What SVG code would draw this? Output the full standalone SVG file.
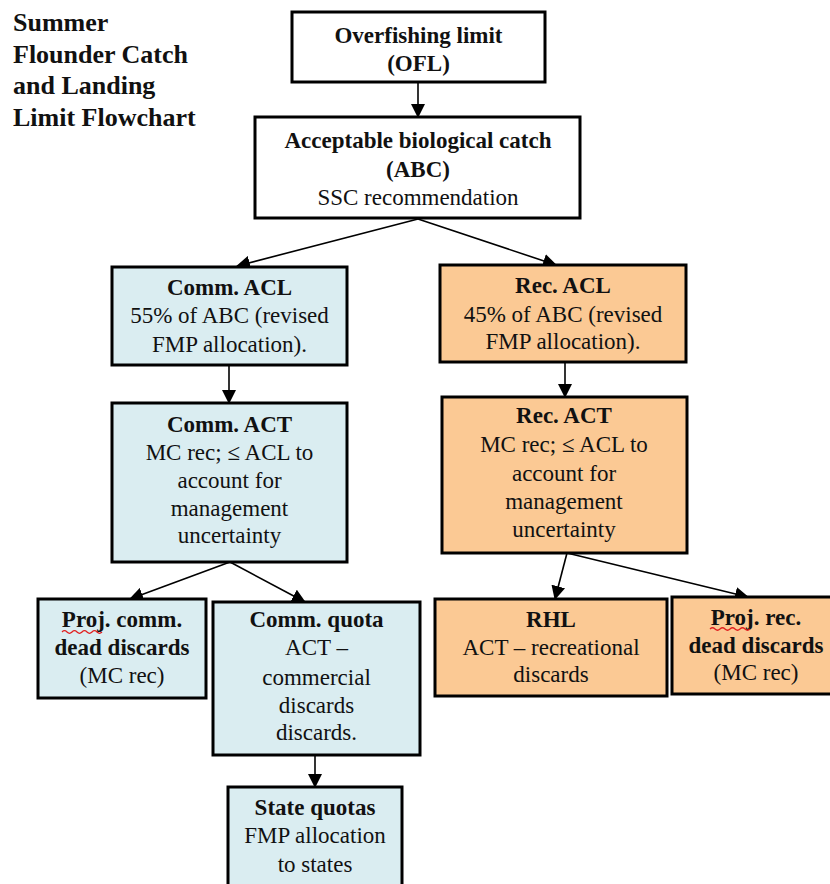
<svg xmlns="http://www.w3.org/2000/svg" width="830" height="884" viewBox="0 0 830 884" font-family="Liberation Serif" font-size="23">
<defs>
<marker id="ah" markerUnits="userSpaceOnUse" markerWidth="14" markerHeight="14" viewBox="0 0 14 14" refX="13" refY="7" orient="auto">
<path d="M0,0 L14,7 L0,14 Z" fill="#000"/>
</marker>
</defs>
<style>
.box{stroke:#000;stroke-width:3}
.w{fill:#fff}
.b{fill:#DAEDF1}
.o{fill:#FBC994}
text{fill:#111;text-anchor:middle;font-family:'Liberation Serif',serif !important}
.h{font-weight:bold}
.title{font-size:26px;font-weight:bold;text-anchor:start}
.conn line{stroke:#000;stroke-width:1.6;marker-end:url(#ah)}
.sq{fill:none;stroke:#e02020;stroke-width:1.2}
</style>
<rect width="830" height="884" fill="#fff"/>
<g id="title" style="font-family:'Liberation Serif',serif">
<text class="title" x="13" y="31" style="font-family:'Liberation Serif',serif">Summer</text>
<text class="title" x="13" y="63" style="font-family:'Liberation Serif',serif">Flounder Catch</text>
<text class="title" x="13" y="94" style="font-family:'Liberation Serif',serif">and Landing</text>
<text class="title" x="13" y="126" style="font-family:'Liberation Serif',serif">Limit Flowchart</text>
</g>
<g class="conn" id="connectors">
<line x1="418" y1="82" x2="418" y2="117"/>
<line x1="418" y1="219" x2="237" y2="266"/>
<line x1="418" y1="219" x2="556" y2="265"/>
<line x1="229" y1="365" x2="229" y2="403"/>
<line x1="565" y1="362" x2="565" y2="397"/>
<line x1="230" y1="562" x2="130" y2="599"/>
<line x1="230" y1="562" x2="305" y2="602"/>
<line x1="567" y1="553" x2="555" y2="599"/>
<line x1="567" y1="553" x2="748" y2="597"/>
<line x1="315" y1="755" x2="315" y2="787"/>
</g>
<g id="ofl" style="font-family:'Liberation Serif',serif">
<rect class="box w" x="292" y="12" width="253" height="70"/>
<text class="h" x="418.5" y="43">Overfishing limit</text>
<text class="h" x="418.5" y="71">(OFL)</text>
</g>
<g id="abc" style="font-family:'Liberation Serif',serif">
<rect class="box w" x="255" y="117" width="325" height="101"/>
<text class="h" x="418" y="148">Acceptable biological catch</text>
<text class="h" x="418" y="177">(ABC)</text>
<text x="418" y="205">SSC recommendation</text>
</g>
<g id="comm-acl" style="font-family:'Liberation Serif',serif">
<rect class="box b" x="112" y="267" width="235" height="98"/>
<text class="h" x="229.5" y="295">Comm. ACL</text>
<text x="229.5" y="323">55% of ABC (revised</text>
<text x="229.5" y="352">FMP allocation).</text>
</g>
<g id="rec-acl" style="font-family:'Liberation Serif',serif">
<rect class="box o" x="440" y="265" width="246" height="97"/>
<text class="h" x="563" y="293">Rec. ACL</text>
<text x="563" y="322">45% of ABC (revised</text>
<text x="563" y="349">FMP allocation).</text>
</g>
<g id="comm-act" style="font-family:'Liberation Serif',serif">
<rect class="box b" x="112" y="403" width="235" height="159"/>
<text class="h" x="229.5" y="432">Comm. ACT</text>
<text x="229.5" y="460">MC rec; ≤ ACL to</text>
<text x="229.5" y="488">account for</text>
<text x="229.5" y="516">management</text>
<text x="229.5" y="543">uncertainty</text>
</g>
<g id="rec-act" style="font-family:'Liberation Serif',serif">
<rect class="box o" x="442" y="397" width="245" height="156"/>
<text class="h" x="564" y="423">Rec. ACT</text>
<text x="564" y="452">MC rec; ≤ ACL to</text>
<text x="564" y="481">account for</text>
<text x="564" y="509">management</text>
<text x="564" y="537">uncertainty</text>
</g>
<g id="proj-comm" style="font-family:'Liberation Serif',serif">
<rect class="box b" x="38" y="599" width="168" height="99"/>
<text class="h" x="122" y="627">Proj. comm.</text>
<path class="sq" d="M62,632 q2.5,-2.5 5,0 t5,0 t5,0 t5,0 t5,0 t5,0 t5,0 t5,0"/>
<text class="h" x="122" y="655">dead discards</text>
<text x="122" y="683">(MC rec)</text>
</g>
<g id="comm-quota" style="font-family:'Liberation Serif',serif">
<rect class="box b" x="213" y="602" width="207" height="153"/>
<text class="h" x="316.5" y="627">Comm. quota</text>
<text x="316.5" y="655">ACT –</text>
<text x="316.5" y="685">commercial</text>
<text x="316.5" y="713">discards</text>
<text x="316.5" y="740">discards.</text>
</g>
<g id="rhl" style="font-family:'Liberation Serif',serif">
<rect class="box o" x="435" y="599" width="232" height="97"/>
<text class="h" x="551" y="627">RHL</text>
<text x="551" y="655">ACT – recreational</text>
<text x="551" y="682">discards</text>
</g>
<g id="proj-rec" style="font-family:'Liberation Serif',serif">
<rect class="box o" x="672" y="597" width="175" height="97"/>
<text class="h" x="756" y="625">Proj. rec.</text>
<path class="sq" d="M710,629 q2.5,-2.5 5,0 t5,0 t5,0 t5,0 t5,0 t5,0 t5,0 t5,0"/>
<text class="h" x="756" y="653">dead discards</text>
<text x="756" y="680">(MC rec)</text>
</g>
<g id="state-quotas" style="font-family:'Liberation Serif',serif">
<rect class="box b" x="228" y="787" width="174" height="120"/>
<text class="h" x="315" y="815">State quotas</text>
<text x="315" y="843">FMP allocation</text>
<text x="315" y="872">to states</text>
</g>
</svg>
